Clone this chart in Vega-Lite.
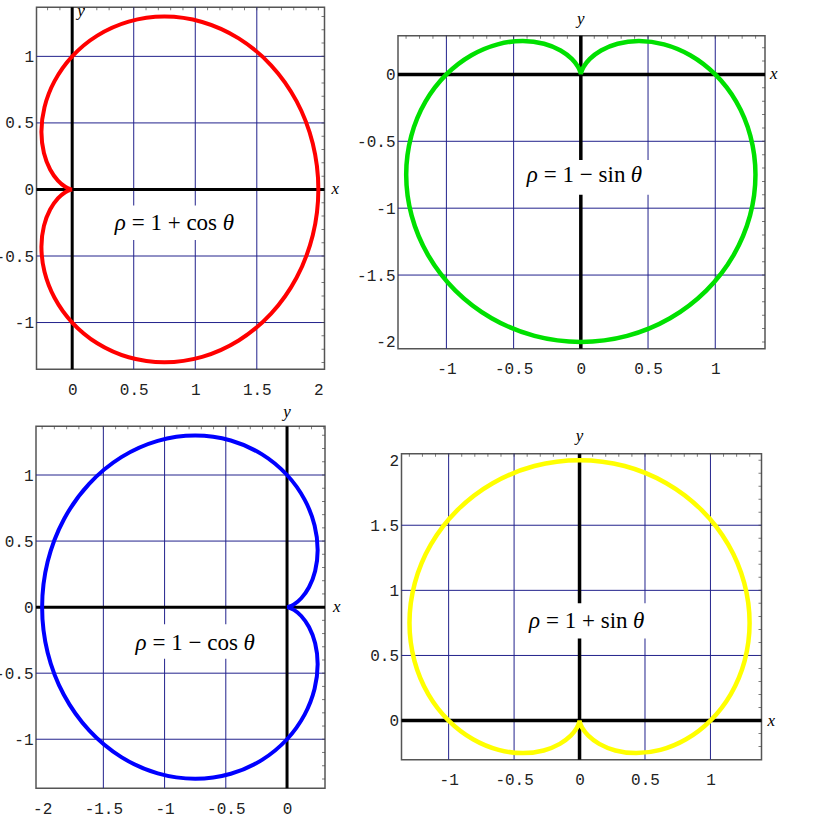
{
  "$schema": "https://vega.github.io/schema/vega-lite/v6.json",
  "padding": {"left": -7, "top": 1, "right": 0, "bottom": 0},
  "background": "white",
  "bounds": "full",
  "center": true,
  "spacing": 13,
  "datasets": {
    "tA": [{"t":-1.3},{"t":-1.2},{"t":-1.1},{"t":-1},{"t":-0.9},{"t":-0.8},{"t":-0.7},{"t":-0.6},{"t":-0.5},{"t":-0.4},{"t":-0.3},{"t":-0.2},{"t":-0.1},{"t":0},{"t":0.1},{"t":0.2},{"t":0.3},{"t":0.4},{"t":0.5},{"t":0.6},{"t":0.7},{"t":0.8},{"t":0.9},{"t":1},{"t":1.1},{"t":1.2},{"t":1.3}],
    "tB": [{"t":-0.2},{"t":-0.1},{"t":0},{"t":0.1},{"t":0.2},{"t":0.3},{"t":0.4},{"t":0.5},{"t":0.6},{"t":0.7},{"t":0.8},{"t":0.9},{"t":1},{"t":1.1},{"t":1.2},{"t":1.3},{"t":1.4},{"t":1.5},{"t":1.6},{"t":1.7},{"t":1.8},{"t":1.9},{"t":2}],
    "tC": [{"t":-2},{"t":-1.9},{"t":-1.8},{"t":-1.7},{"t":-1.6},{"t":-1.5},{"t":-1.4},{"t":-1.3},{"t":-1.2},{"t":-1.1},{"t":-1},{"t":-0.9},{"t":-0.8},{"t":-0.7},{"t":-0.6},{"t":-0.5},{"t":-0.4},{"t":-0.3},{"t":-0.2},{"t":-0.1},{"t":0},{"t":0.1},{"t":0.2}],
    "tD": [{"t":-2},{"t":-1.9},{"t":-1.8},{"t":-1.7},{"t":-1.6},{"t":-1.5},{"t":-1.4},{"t":-1.3},{"t":-1.2},{"t":-1.1},{"t":-1},{"t":-0.9},{"t":-0.8},{"t":-0.7},{"t":-0.6},{"t":-0.5},{"t":-0.4},{"t":-0.3},{"t":-0.2},{"t":-0.1},{"t":0},{"t":0.1},{"t":0.2},{"t":0.3}],
    "red": [
      {"i":0,"x":0,"y":0},{"i":1,"x":-0.01496,"y":-0.00264},{"i":2,"x":-0.05667,"y":-0.02063},{"i":3,"x":-0.11603,"y":-0.06699},{"i":4,"x":-0.17922,"y":-0.15039},{"i":5,"x":-0.22961,"y":-0.27364},{"i":6,"x":-0.25,"y":-0.43301},{"i":7,"x":-0.22504,"y":-0.6183},{"i":8,"x":-0.1435,"y":-0.8138},{"i":9,"x":0,"y":-1},{"i":10,"x":0.2038,"y":-1.15582},{"i":11,"x":0.459,"y":-1.26109},{"i":12,"x":0.75,"y":-1.29904},{"i":13,"x":1.05597,"y":-1.25845},{"i":14,"x":1.35287,"y":-1.13518},{"i":15,"x":1.61603,"y":-0.93301},{"i":16,"x":1.82272,"y":-0.66341},{"i":17,"x":1.95466,"y":-0.34466},{"i":18,"x":2,"y":0},{"i":19,"x":1.95466,"y":0.34466},{"i":20,"x":1.82272,"y":0.66341},{"i":21,"x":1.61603,"y":0.93301},{"i":22,"x":1.35287,"y":1.13518},{"i":23,"x":1.05597,"y":1.25845},{"i":24,"x":0.75,"y":1.29904},{"i":25,"x":0.459,"y":1.26109},{"i":26,"x":0.2038,"y":1.15582},{"i":27,"x":0,"y":1},{"i":28,"x":-0.1435,"y":0.8138},{"i":29,"x":-0.22504,"y":0.6183},{"i":30,"x":-0.25,"y":0.43301},{"i":31,"x":-0.22961,"y":0.27364},{"i":32,"x":-0.17922,"y":0.15039},{"i":33,"x":-0.11603,"y":0.06699},{"i":34,"x":-0.05667,"y":0.02063},{"i":35,"x":-0.01496,"y":0.00264},{"i":36,"x":0,"y":0}
    ],
    "green": [
      {"i":0,"x":0,"y":0},{"i":1,"x":-0.00264,"y":0.01496},{"i":2,"x":-0.02063,"y":0.05667},{"i":3,"x":-0.06699,"y":0.11603},{"i":4,"x":-0.15039,"y":0.17922},{"i":5,"x":-0.27364,"y":0.22961},{"i":6,"x":-0.43301,"y":0.25},{"i":7,"x":-0.6183,"y":0.22504},{"i":8,"x":-0.8138,"y":0.1435},{"i":9,"x":-1,"y":0},{"i":10,"x":-1.15582,"y":-0.2038},{"i":11,"x":-1.26109,"y":-0.459},{"i":12,"x":-1.29904,"y":-0.75},{"i":13,"x":-1.25845,"y":-1.05597},{"i":14,"x":-1.13518,"y":-1.35287},{"i":15,"x":-0.93301,"y":-1.61603},{"i":16,"x":-0.66341,"y":-1.82272},{"i":17,"x":-0.34466,"y":-1.95466},{"i":18,"x":0,"y":-2},{"i":19,"x":0.34466,"y":-1.95466},{"i":20,"x":0.66341,"y":-1.82272},{"i":21,"x":0.93301,"y":-1.61603},{"i":22,"x":1.13518,"y":-1.35287},{"i":23,"x":1.25845,"y":-1.05597},{"i":24,"x":1.29904,"y":-0.75},{"i":25,"x":1.26109,"y":-0.459},{"i":26,"x":1.15582,"y":-0.2038},{"i":27,"x":1,"y":0},{"i":28,"x":0.8138,"y":0.1435},{"i":29,"x":0.6183,"y":0.22504},{"i":30,"x":0.43301,"y":0.25},{"i":31,"x":0.27364,"y":0.22961},{"i":32,"x":0.15039,"y":0.17922},{"i":33,"x":0.06699,"y":0.11603},{"i":34,"x":0.02063,"y":0.05667},{"i":35,"x":0.00264,"y":0.01496},{"i":36,"x":0,"y":0}
    ],
    "blue": [
      {"i":0,"x":0,"y":0},{"i":1,"x":0.01496,"y":-0.00264},{"i":2,"x":0.05667,"y":-0.02063},{"i":3,"x":0.11603,"y":-0.06699},{"i":4,"x":0.17922,"y":-0.15039},{"i":5,"x":0.22961,"y":-0.27364},{"i":6,"x":0.25,"y":-0.43301},{"i":7,"x":0.22504,"y":-0.6183},{"i":8,"x":0.1435,"y":-0.8138},{"i":9,"x":0,"y":-1},{"i":10,"x":-0.2038,"y":-1.15582},{"i":11,"x":-0.459,"y":-1.26109},{"i":12,"x":-0.75,"y":-1.29904},{"i":13,"x":-1.05597,"y":-1.25845},{"i":14,"x":-1.35287,"y":-1.13518},{"i":15,"x":-1.61603,"y":-0.93301},{"i":16,"x":-1.82272,"y":-0.66341},{"i":17,"x":-1.95466,"y":-0.34466},{"i":18,"x":-2,"y":0},{"i":19,"x":-1.95466,"y":0.34466},{"i":20,"x":-1.82272,"y":0.66341},{"i":21,"x":-1.61603,"y":0.93301},{"i":22,"x":-1.35287,"y":1.13518},{"i":23,"x":-1.05597,"y":1.25845},{"i":24,"x":-0.75,"y":1.29904},{"i":25,"x":-0.459,"y":1.26109},{"i":26,"x":-0.2038,"y":1.15582},{"i":27,"x":0,"y":1},{"i":28,"x":0.1435,"y":0.8138},{"i":29,"x":0.22504,"y":0.6183},{"i":30,"x":0.25,"y":0.43301},{"i":31,"x":0.22961,"y":0.27364},{"i":32,"x":0.17922,"y":0.15039},{"i":33,"x":0.11603,"y":0.06699},{"i":34,"x":0.05667,"y":0.02063},{"i":35,"x":0.01496,"y":0.00264},{"i":36,"x":0,"y":0}
    ],
    "yellow": [
      {"i":0,"x":0,"y":0},{"i":1,"x":0.00264,"y":-0.01496},{"i":2,"x":0.02063,"y":-0.05667},{"i":3,"x":0.06699,"y":-0.11603},{"i":4,"x":0.15039,"y":-0.17922},{"i":5,"x":0.27364,"y":-0.22961},{"i":6,"x":0.43301,"y":-0.25},{"i":7,"x":0.6183,"y":-0.22504},{"i":8,"x":0.8138,"y":-0.1435},{"i":9,"x":1,"y":0},{"i":10,"x":1.15582,"y":0.2038},{"i":11,"x":1.26109,"y":0.459},{"i":12,"x":1.29904,"y":0.75},{"i":13,"x":1.25845,"y":1.05597},{"i":14,"x":1.13518,"y":1.35287},{"i":15,"x":0.93301,"y":1.61603},{"i":16,"x":0.66341,"y":1.82272},{"i":17,"x":0.34466,"y":1.95466},{"i":18,"x":0,"y":2},{"i":19,"x":-0.34466,"y":1.95466},{"i":20,"x":-0.66341,"y":1.82272},{"i":21,"x":-0.93301,"y":1.61603},{"i":22,"x":-1.13518,"y":1.35287},{"i":23,"x":-1.25845,"y":1.05597},{"i":24,"x":-1.29904,"y":0.75},{"i":25,"x":-1.26109,"y":0.459},{"i":26,"x":-1.15582,"y":0.2038},{"i":27,"x":-1,"y":0},{"i":28,"x":-0.8138,"y":-0.1435},{"i":29,"x":-0.6183,"y":-0.22504},{"i":30,"x":-0.43301,"y":-0.25},{"i":31,"x":-0.27364,"y":-0.22961},{"i":32,"x":-0.15039,"y":-0.17922},{"i":33,"x":-0.06699,"y":-0.11603},{"i":34,"x":-0.02063,"y":-0.05667},{"i":35,"x":-0.00264,"y":-0.01496},{"i":36,"x":0,"y":0}
    ]
  },
  "hconcat": [
    {
      "vconcat": [
        {
          "width": 288, "height": 362,
          "layer": [
            {"data": {"values": [{"v":0.5},{"v":1},{"v":1.5}]},
             "mark": {"type":"rule","color":"#22228c","strokeWidth":1},
             "encoding": {"x": {"field":"v","type":"quantitative","scale":{"domain":[-0.29,2.05],"nice":false,"zero":false},
               "axis": {"values":[0,0.5,1,1.5,2],"labelExpr":"''+datum.value","labelPadding":12,"title":null}}}},
            {"data": {"values": [{"v":-1},{"v":-0.5},{"v":0.5},{"v":1}]},
             "mark": {"type":"rule","color":"#22228c","strokeWidth":1},
             "encoding": {"y": {"field":"v","type":"quantitative","scale":{"domain":[-1.35,1.37],"nice":false,"zero":false},
               "axis": {"values":[-1,-0.5,0,0.5,1],"labelExpr":"''+datum.value","labelPadding":3,"title":null}}}},
            {"data": {"name":"tB"},
             "mark": {"type":"tick","orient":"vertical","color":"#444","size":6,"thickness":1,"clip":true},
             "encoding": {"x": {"field":"t","type":"quantitative"},"y": {"datum":1.37,"type":"quantitative"}}},
            {"data": {"name":"tA"},
             "mark": {"type":"tick","orient":"horizontal","color":"#444","size":6,"thickness":1,"clip":true},
             "encoding": {"y": {"field":"t","type":"quantitative"},"x": {"datum":2.05,"type":"quantitative"}}},
            {"data": {"values": [{"v":0}]},
             "mark": {"type":"rule","color":"black","strokeWidth":3},
             "encoding": {"x": {"field":"v","type":"quantitative"}}},
            {"data": {"values": [{"v":0}]},
             "mark": {"type":"rule","color":"black","strokeWidth":3},
             "encoding": {"y": {"field":"v","type":"quantitative"}}},
            {"data": {"name":"red"},
             "mark": {"type":"line","color":"#ff0000","strokeWidth":4,"interpolate":"catmull-rom"},
             "encoding": {"x": {"field":"x","type":"quantitative"},"y": {"field":"y","type":"quantitative"},"order": {"field":"i","type":"quantitative"}}},
            {"data": {"values": [{"x1":0.3,"x2":1.36,"y1":-0.12,"y2":-0.38}]},
             "mark": {"type":"rect","color":"white"},
             "encoding": {"x": {"field":"x1","type":"quantitative"},"x2":{"field":"x2"},"y": {"field":"y1","type":"quantitative"},"y2":{"field":"y2"}}},
            {"data": {"values": [{"x":0.833,"y":-0.301}]},
             "mark": {"type":"text","text":"ρ","font":"Liberation Serif","fontStyle":"italic","fontSize":23,"align":"left","baseline":"alphabetic","dx":-60,"color":"black"},
             "encoding": {"x": {"field":"x","type":"quantitative"},"y": {"field":"y","type":"quantitative"}}},
            {"data": {"values": [{"x":0.833,"y":-0.301}]},
             "mark": {"type":"text","text":"= 1 + cos","font":"Liberation Serif","fontSize":23,"align":"left","baseline":"alphabetic","dx":-43,"color":"black"},
             "encoding": {"x": {"field":"x","type":"quantitative"},"y": {"field":"y","type":"quantitative"}}},
            {"data": {"values": [{"x":0.833,"y":-0.301}]},
             "mark": {"type":"text","text":"θ","font":"Liberation Serif","fontStyle":"italic","fontSize":23,"align":"left","baseline":"alphabetic","dx":48,"color":"black"},
             "encoding": {"x": {"field":"x","type":"quantitative"},"y": {"field":"y","type":"quantitative"}}},
            {"data": {"values": [{"a":1}]},
             "mark": {"type":"text","text":"y","font":"Liberation Serif","fontStyle":"italic","fontSize":17,"align":"left","baseline":"alphabetic","dx":5,"dy":9,"color":"black"},
             "encoding": {"x": {"datum":0,"type":"quantitative"},"y": {"datum":1.37,"type":"quantitative"}}},
            {"data": {"values": [{"a":1}]},
             "mark": {"type":"text","text":"x","font":"Liberation Serif","fontStyle":"italic","fontSize":17,"align":"left","baseline":"middle","dx":7,"color":"black"},
             "encoding": {"x": {"datum":2.05,"type":"quantitative"},"y": {"datum":0,"type":"quantitative"}}}
          ]
        },
        {
          "width": 289, "height": 362,
          "layer": [
            {"data": {"values": [{"v":-1.5},{"v":-1},{"v":-0.5}]},
             "mark": {"type":"rule","color":"#22228c","strokeWidth":1},
             "encoding": {"x": {"field":"v","type":"quantitative","scale":{"domain":[-2.05,0.31],"nice":false,"zero":false},
               "axis": {"values":[-2,-1.5,-1,-0.5,0],"labelExpr":"''+datum.value","labelPadding":12,"title":null}}}},
            {"data": {"values": [{"v":-1},{"v":-0.5},{"v":0.5},{"v":1}]},
             "mark": {"type":"rule","color":"#22228c","strokeWidth":1},
             "encoding": {"y": {"field":"v","type":"quantitative","scale":{"domain":[-1.37,1.37],"nice":false,"zero":false},
               "axis": {"values":[-1,-0.5,0,0.5,1],"labelExpr":"''+datum.value","labelPadding":3,"title":null}}}},
            {"data": {"name":"tD"},
             "mark": {"type":"tick","orient":"vertical","color":"#444","size":6,"thickness":1,"clip":true},
             "encoding": {"x": {"field":"t","type":"quantitative"},"y": {"datum":1.37,"type":"quantitative"}}},
            {"data": {"name":"tA"},
             "mark": {"type":"tick","orient":"horizontal","color":"#444","size":6,"thickness":1,"clip":true},
             "encoding": {"y": {"field":"t","type":"quantitative"},"x": {"datum":0.31,"type":"quantitative"}}},
            {"data": {"values": [{"v":0}]},
             "mark": {"type":"rule","color":"black","strokeWidth":3},
             "encoding": {"x": {"field":"v","type":"quantitative"}}},
            {"data": {"values": [{"v":0}]},
             "mark": {"type":"rule","color":"black","strokeWidth":3},
             "encoding": {"y": {"field":"v","type":"quantitative"}}},
            {"data": {"name":"blue"},
             "mark": {"type":"line","color":"#0000ff","strokeWidth":4,"interpolate":"catmull-rom"},
             "encoding": {"x": {"field":"x","type":"quantitative"},"y": {"field":"y","type":"quantitative"},"order": {"field":"i","type":"quantitative"}}},
            {"data": {"values": [{"x1":-1.3,"x2":-0.2,"y1":-0.13,"y2":-0.39}]},
             "mark": {"type":"rect","color":"white"},
             "encoding": {"x": {"field":"x1","type":"quantitative"},"x2":{"field":"x2"},"y": {"field":"y1","type":"quantitative"},"y2":{"field":"y2"}}},
            {"data": {"values": [{"x":-0.747,"y":-0.325}]},
             "mark": {"type":"text","text":"ρ","font":"Liberation Serif","fontStyle":"italic","fontSize":23,"align":"left","baseline":"alphabetic","dx":-60,"color":"black"},
             "encoding": {"x": {"field":"x","type":"quantitative"},"y": {"field":"y","type":"quantitative"}}},
            {"data": {"values": [{"x":-0.747,"y":-0.325}]},
             "mark": {"type":"text","text":"= 1 − cos","font":"Liberation Serif","fontSize":23,"align":"left","baseline":"alphabetic","dx":-43,"color":"black"},
             "encoding": {"x": {"field":"x","type":"quantitative"},"y": {"field":"y","type":"quantitative"}}},
            {"data": {"values": [{"x":-0.747,"y":-0.325}]},
             "mark": {"type":"text","text":"θ","font":"Liberation Serif","fontStyle":"italic","fontSize":23,"align":"left","baseline":"alphabetic","dx":48,"color":"black"},
             "encoding": {"x": {"field":"x","type":"quantitative"},"y": {"field":"y","type":"quantitative"}}},
            {"data": {"values": [{"a":1}]},
             "mark": {"type":"text","text":"y","font":"Liberation Serif","fontStyle":"italic","fontSize":17,"align":"center","baseline":"alphabetic","dy":-9,"color":"black"},
             "encoding": {"x": {"datum":0,"type":"quantitative"},"y": {"datum":1.37,"type":"quantitative"}}},
            {"data": {"values": [{"a":1}]},
             "mark": {"type":"text","text":"x","font":"Liberation Serif","fontStyle":"italic","fontSize":17,"align":"left","baseline":"middle","dx":8,"color":"black"},
             "encoding": {"x": {"datum":0.31,"type":"quantitative"},"y": {"datum":0,"type":"quantitative"}}}
          ]
        }
      ],
      "spacing": 57, "bounds": "flush", "center": true
    },
    {
      "vconcat": [
        {
          "width": 367, "height": 313,
          "layer": [
            {"data": {"values": [{"v":-1},{"v":-0.5},{"v":0.5},{"v":1}]},
             "mark": {"type":"rule","color":"#22228c","strokeWidth":1},
             "encoding": {"x": {"field":"v","type":"quantitative","scale":{"domain":[-1.36,1.37],"nice":false,"zero":false},
               "axis": {"values":[-1,-0.5,0,0.5,1],"labelExpr":"''+datum.value","labelPadding":12,"title":null}}}},
            {"data": {"values": [{"v":-1.5},{"v":-1},{"v":-0.5}]},
             "mark": {"type":"rule","color":"#22228c","strokeWidth":1},
             "encoding": {"y": {"field":"v","type":"quantitative","scale":{"domain":[-2.05,0.29],"nice":false,"zero":false},
               "axis": {"values":[-2,-1.5,-1,-0.5,0],"labelExpr":"''+datum.value","labelPadding":3,"title":null}}}},
            {"data": {"name":"tA"},
             "mark": {"type":"tick","orient":"vertical","color":"#444","size":6,"thickness":1,"clip":true},
             "encoding": {"x": {"field":"t","type":"quantitative"},"y": {"datum":0.29,"type":"quantitative"}}},
            {"data": {"name":"tC"},
             "mark": {"type":"tick","orient":"horizontal","color":"#444","size":6,"thickness":1,"clip":true},
             "encoding": {"y": {"field":"t","type":"quantitative"},"x": {"datum":1.37,"type":"quantitative"}}},
            {"data": {"values": [{"v":0}]},
             "mark": {"type":"rule","color":"black","strokeWidth":3.5},
             "encoding": {"x": {"field":"v","type":"quantitative"}}},
            {"data": {"values": [{"v":0}]},
             "mark": {"type":"rule","color":"black","strokeWidth":3.5},
             "encoding": {"y": {"field":"v","type":"quantitative"}}},
            {"data": {"name":"green"},
             "mark": {"type":"line","color":"#00e000","strokeWidth":4.5,"interpolate":"catmull-rom"},
             "encoding": {"x": {"field":"x","type":"quantitative"},"y": {"field":"y","type":"quantitative"},"order": {"field":"i","type":"quantitative"}}},
            {"data": {"values": [{"x1":-0.47,"x2":0.51,"y1":-0.64,"y2":-0.9}]},
             "mark": {"type":"rect","color":"white"},
             "encoding": {"x": {"field":"x1","type":"quantitative"},"x2":{"field":"x2"},"y": {"field":"y1","type":"quantitative"},"y2":{"field":"y2"}}},
            {"data": {"values": [{"x":0.03,"y":-0.808}]},
             "mark": {"type":"text","text":"ρ","font":"Liberation Serif","fontStyle":"italic","fontSize":23,"align":"left","baseline":"alphabetic","dx":-58,"color":"black"},
             "encoding": {"x": {"field":"x","type":"quantitative"},"y": {"field":"y","type":"quantitative"}}},
            {"data": {"values": [{"x":0.03,"y":-0.808}]},
             "mark": {"type":"text","text":"= 1 − sin","font":"Liberation Serif","fontSize":23,"align":"left","baseline":"alphabetic","dx":-41,"color":"black"},
             "encoding": {"x": {"field":"x","type":"quantitative"},"y": {"field":"y","type":"quantitative"}}},
            {"data": {"values": [{"x":0.03,"y":-0.808}]},
             "mark": {"type":"text","text":"θ","font":"Liberation Serif","fontStyle":"italic","fontSize":23,"align":"left","baseline":"alphabetic","dx":46,"color":"black"},
             "encoding": {"x": {"field":"x","type":"quantitative"},"y": {"field":"y","type":"quantitative"}}},
            {"data": {"values": [{"a":1}]},
             "mark": {"type":"text","text":"y","font":"Liberation Serif","fontStyle":"italic","fontSize":17,"align":"center","baseline":"alphabetic","dy":-12,"color":"black"},
             "encoding": {"x": {"datum":0,"type":"quantitative"},"y": {"datum":0.29,"type":"quantitative"}}},
            {"data": {"values": [{"a":1}]},
             "mark": {"type":"text","text":"x","font":"Liberation Serif","fontStyle":"italic","fontSize":17,"align":"left","baseline":"middle","dx":5,"color":"black"},
             "encoding": {"x": {"datum":1.37,"type":"quantitative"},"y": {"datum":0,"type":"quantitative"}}}
          ]
        },
        {
          "width": 360, "height": 306,
          "layer": [
            {"data": {"values": [{"v":-1},{"v":-0.5},{"v":0.5},{"v":1}]},
             "mark": {"type":"rule","color":"#22228c","strokeWidth":1},
             "encoding": {"x": {"field":"v","type":"quantitative","scale":{"domain":[-1.36,1.39],"nice":false,"zero":false},
               "axis": {"values":[-1,-0.5,0,0.5,1],"labelExpr":"''+datum.value","labelPadding":12,"title":null}}}},
            {"data": {"values": [{"v":0.5},{"v":1},{"v":1.5}]},
             "mark": {"type":"rule","color":"#22228c","strokeWidth":1},
             "encoding": {"y": {"field":"v","type":"quantitative","scale":{"domain":[-0.3,2.05],"nice":false,"zero":false},
               "axis": {"values":[0,0.5,1,1.5,2],"labelExpr":"''+datum.value","labelPadding":3,"title":null}}}},
            {"data": {"name":"tA"},
             "mark": {"type":"tick","orient":"vertical","color":"#444","size":6,"thickness":1,"clip":true},
             "encoding": {"x": {"field":"t","type":"quantitative"},"y": {"datum":2.05,"type":"quantitative"}}},
            {"data": {"name":"tB"},
             "mark": {"type":"tick","orient":"horizontal","color":"#444","size":6,"thickness":1,"clip":true},
             "encoding": {"y": {"field":"t","type":"quantitative"},"x": {"datum":1.39,"type":"quantitative"}}},
            {"data": {"values": [{"v":0}]},
             "mark": {"type":"rule","color":"black","strokeWidth":3.5},
             "encoding": {"x": {"field":"v","type":"quantitative"}}},
            {"data": {"values": [{"v":0}]},
             "mark": {"type":"rule","color":"black","strokeWidth":3.5},
             "encoding": {"y": {"field":"v","type":"quantitative"}}},
            {"data": {"name":"yellow"},
             "mark": {"type":"line","color":"#ffff00","strokeWidth":4.5,"interpolate":"catmull-rom"},
             "encoding": {"x": {"field":"x","type":"quantitative"},"y": {"field":"y","type":"quantitative"},"order": {"field":"i","type":"quantitative"}}},
            {"data": {"values": [{"x1":-0.46,"x2":0.55,"y1":0.9,"y2":0.63}]},
             "mark": {"type":"rect","color":"white"},
             "encoding": {"x": {"field":"x1","type":"quantitative"},"x2":{"field":"x2"},"y": {"field":"y1","type":"quantitative"},"y2":{"field":"y2"}}},
            {"data": {"values": [{"x":0.057,"y":0.708}]},
             "mark": {"type":"text","text":"ρ","font":"Liberation Serif","fontStyle":"italic","fontSize":23,"align":"left","baseline":"alphabetic","dx":-58,"color":"black"},
             "encoding": {"x": {"field":"x","type":"quantitative"},"y": {"field":"y","type":"quantitative"}}},
            {"data": {"values": [{"x":0.057,"y":0.708}]},
             "mark": {"type":"text","text":"= 1 + sin","font":"Liberation Serif","fontSize":23,"align":"left","baseline":"alphabetic","dx":-41,"color":"black"},
             "encoding": {"x": {"field":"x","type":"quantitative"},"y": {"field":"y","type":"quantitative"}}},
            {"data": {"values": [{"x":0.057,"y":0.708}]},
             "mark": {"type":"text","text":"θ","font":"Liberation Serif","fontStyle":"italic","fontSize":23,"align":"left","baseline":"alphabetic","dx":46,"color":"black"},
             "encoding": {"x": {"field":"x","type":"quantitative"},"y": {"field":"y","type":"quantitative"}}},
            {"data": {"values": [{"a":1}]},
             "mark": {"type":"text","text":"y","font":"Liberation Serif","fontStyle":"italic","fontSize":17,"align":"center","baseline":"alphabetic","dy":-13,"color":"black"},
             "encoding": {"x": {"datum":0,"type":"quantitative"},"y": {"datum":2.05,"type":"quantitative"}}},
            {"data": {"values": [{"a":1}]},
             "mark": {"type":"text","text":"x","font":"Liberation Serif","fontStyle":"italic","fontSize":17,"align":"left","baseline":"middle","dx":6,"color":"black"},
             "encoding": {"x": {"datum":1.39,"type":"quantitative"},"y": {"datum":0,"type":"quantitative"}}}
          ]
        }
      ],
      "spacing": 105, "bounds": "flush", "center": true
    }
  ],
  "config": {
    "view": {"stroke": "#555", "strokeWidth": 1.5},
    "axis": {"labelFont": "Liberation Mono", "labelFontSize": 16, "labelColor": "#222", "ticks": false, "domain": false, "grid": false, "labelOverlap": false, "labelFlush": false, "labelBound": false}
  }
}
